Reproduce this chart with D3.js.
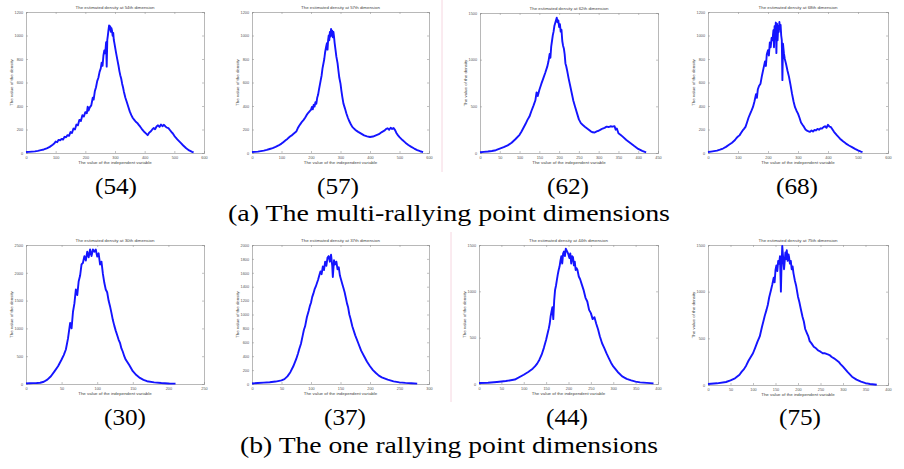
<!DOCTYPE html>
<html><head><meta charset="utf-8">
<script src="https://cdn.jsdelivr.net/npm/d3@7"></script>
<style>body{margin:0;background:#fff}svg{display:block}</style>
</head><body>
<svg id="c" width="904" height="469"></svg>
<script>
// ---- data ----
const dim54 = [[0,8],[10,10],[20,12],[30,14],[40,18],[50,24],[60,30],[70,40],[80,52],[90,70],[95,80],[100,98],[105,92],[110,112],[115,108],[120,120],[125,114],[130,138],[135,134],[140,152],[145,146],[150,178],[155,170],[160,208],[165,200],[170,242],[175,236],[180,282],[185,272],[190,322],[195,310],[200,348],[205,338],[208,395],[211,362],[215,388],[220,405],[225,470],[228,455],[232,525],[236,560],[240,612],[244,640],[248,690],[252,720],[255,768],[258,742],[261,830],[264,872],[267,848],[270,942],[272,735],[274,962],[276,1002],[278,1045],[280,1085],[282,1050],[284,1078],[286,1032],[288,1062],[290,1040],[292,998],[294,1022],[296,962],[298,935],[300,905],[303,860],[306,820],[309,780],[312,740],[315,695],[318,660],[321,632],[324,590],[327,560],[330,522],[335,470],[340,432],[345,392],[350,352],[355,322],[360,298],[365,282],[370,266],[375,256],[380,240],[385,224],[390,206],[395,190],[400,176],[405,165],[410,152],[415,172],[420,182],[425,198],[430,212],[435,202],[440,226],[445,236],[450,222],[455,242],[460,228],[465,240],[470,226],[475,216],[480,212],[485,196],[490,180],[495,166],[500,146],[505,130],[510,116],[520,90],[530,64],[540,40],[550,22],[560,10],[565,5]];
const dim57 = [[0,8],[10,10],[20,12],[30,16],[40,20],[50,26],[60,34],[70,42],[80,52],[90,64],[100,80],[105,90],[110,100],[115,110],[120,120],[125,132],[130,142],[135,150],[140,162],[145,172],[150,182],[155,210],[160,232],[165,250],[170,268],[175,282],[180,300],[185,322],[190,340],[195,355],[200,368],[203,392],[206,372],[209,410],[212,395],[215,432],[218,420],[221,470],[224,495],[227,540],[230,580],[233,620],[236,660],[239,720],[242,760],[245,800],[248,860],[251,900],[254,935],[256,880],[258,960],[260,1000],[262,960],[264,1030],[266,990],[268,1055],[270,1000],[272,1040],[274,985],[276,1030],[278,990],[280,940],[283,880],[286,820],[290,765],[293,700],[296,640],[300,590],[303,530],[306,480],[310,420],[315,380],[320,336],[325,300],[330,270],[335,245],[340,222],[345,210],[350,198],[355,188],[360,180],[370,165],[380,150],[390,142],[400,136],[410,140],[420,150],[430,160],[440,178],[450,192],[455,205],[460,210],[465,198],[470,215],[475,205],[480,212],[485,195],[490,168],[495,150],[500,135],[510,110],[520,88],[530,68],[540,52],[550,38],[560,25],[570,15],[580,8]];
const dim62 = [[0,8],[10,12],[20,16],[30,22],[40,30],[50,46],[60,62],[70,82],[80,110],[90,150],[100,195],[105,230],[110,270],[115,310],[120,355],[125,390],[130,450],[135,505],[140,565],[143,650],[146,610],[150,675],[155,740],[160,800],[165,860],[170,925],[173,980],[176,1060],[178,1020],[180,1140],[182,1200],[184,1260],[186,1300],[188,1360],[190,1390],[192,1420],[194,1450],[196,1400],[198,1420],[200,1350],[202,1380],[204,1300],[206,1320],[208,1200],[210,1150],[212,1120],[214,1060],[216,960],[218,930],[220,890],[224,800],[228,720],[232,640],[236,560],[240,500],[245,430],[250,360],[255,320],[260,300],[265,282],[270,266],[275,250],[280,232],[285,222],[290,220],[295,232],[300,238],[305,250],[310,262],[315,270],[320,282],[325,278],[330,286],[335,282],[340,288],[343,250],[346,262],[350,212],[355,196],[360,178],[370,140],[380,108],[390,75],[400,44],[410,22],[420,7]];
const dim68 = [[0,8],[10,12],[20,16],[30,20],[40,28],[50,38],[60,52],[70,70],[80,88],[90,110],[95,128],[100,140],[105,150],[110,170],[115,190],[120,205],[125,222],[130,260],[135,300],[140,330],[145,360],[150,392],[155,440],[160,500],[163,470],[166,540],[170,570],[175,590],[180,660],[185,720],[190,780],[193,740],[196,840],[200,875],[203,830],[206,940],[209,900],[212,980],[215,960],[218,1045],[220,900],[222,1080],[224,1000],[226,1110],[228,850],[230,1100],[232,960],[234,1080],[236,1030],[238,1115],[240,1060],[242,1090],[244,1000],[246,960],[248,620],[250,930],[253,850],[256,800],[260,760],[265,700],[270,648],[275,580],[280,505],[285,440],[290,390],[295,360],[300,335],[305,300],[310,260],[315,240],[320,222],[325,200],[330,190],[335,185],[340,180],[345,192],[350,182],[355,196],[360,192],[365,205],[370,198],[375,210],[380,208],[385,220],[390,228],[395,215],[400,240],[405,225],[410,220],[415,200],[420,180],[430,150],[440,122],[450,100],[460,80],[470,64],[480,50],[490,35],[500,22],[510,12],[515,8]];
const dim30 = [[0,12],[5,14],[10,16],[15,18],[20,22],[25,40],[30,78],[35,140],[40,228],[45,320],[50,440],[53,520],[56,620],[59,820],[62,1100],[64,1000],[66,1300],[68,1450],[70,1700],[72,1600],[74,1850],[76,1950],[78,2150],[80,2180],[82,2300],[84,2220],[86,2380],[88,2280],[90,2420],[92,2300],[94,2420],[96,2380],[98,2420],[100,2290],[102,2350],[104,2150],[106,2200],[108,1980],[110,1820],[112,1700],[114,1650],[116,1500],[118,1400],[120,1280],[122,1150],[124,1050],[126,960],[128,880],[130,800],[132,740],[134,640],[136,580],[138,500],[140,440],[145,340],[150,230],[155,160],[160,110],[165,75],[170,50],[180,30],[190,18],[200,10],[210,6]];
const dim37 = [[0,8],[10,14],[20,20],[30,26],[40,35],[50,52],[55,70],[60,110],[65,170],[70,255],[75,360],[78,440],[80,500],[83,580],[86,700],[88,780],[90,830],[93,960],[96,1050],[98,1120],[100,1170],[102,1250],[104,1300],[106,1360],[108,1400],[110,1450],[112,1500],[114,1560],[116,1620],[118,1580],[120,1690],[122,1640],[124,1760],[126,1700],[128,1820],[130,1840],[132,1760],[134,1860],[136,1700],[137,1540],[139,1780],[141,1720],[143,1760],[145,1650],[147,1680],[149,1560],[151,1500],[153,1440],[155,1380],[157,1320],[159,1240],[161,1160],[163,1100],[165,1000],[167,940],[170,830],[175,700],[180,590],[185,480],[190,400],[195,320],[200,255],[205,200],[210,158],[215,120],[220,96],[230,62],[240,38],[250,24],[260,16],[270,10],[280,5]];
const dim44 = [[0,10],[20,14],[40,22],[60,32],[80,48],[100,100],[110,130],[120,165],[125,190],[130,220],[135,262],[140,316],[145,390],[150,478],[153,540],[156,600],[158,650],[160,728],[162,780],[164,830],[166,700],[168,900],[170,1015],[172,1060],[174,1120],[176,1180],[178,1230],[180,1267],[182,1330],[184,1380],[186,1300],[188,1410],[190,1430],[192,1380],[194,1460],[196,1440],[198,1420],[200,1395],[202,1360],[204,1410],[206,1300],[208,1380],[210,1370],[212,1280],[214,1320],[216,1230],[218,1250],[220,1230],[223,1160],[226,1130],[230,1070],[234,1010],[238,930],[242,890],[246,800],[250,765],[254,700],[258,720],[262,650],[266,590],[270,515],[275,440],[280,388],[285,330],[290,280],[295,230],[300,190],[310,130],[320,82],[330,56],[340,39],[350,26],[360,18],[375,12],[390,7]];
const dim75 = [[0,10],[20,18],[40,32],[50,50],[60,72],[70,110],[75,143],[80,170],[85,210],[90,260],[95,300],[100,340],[105,400],[110,464],[115,520],[120,625],[123,680],[126,740],[130,805],[133,860],[136,940],[140,1018],[143,1080],[146,1150],[148,1100],[150,1232],[152,1280],[154,1220],[156,1330],[158,1300],[160,1380],[162,1000],[163,1200],[165,1490],[167,1360],[169,1240],[170,1300],[172,1420],[174,1350],[175,1445],[177,1330],[179,1400],[180,1375],[182,1300],[184,1330],[186,1240],[188,1270],[190,1196],[193,1120],[196,1060],[200,946],[203,890],[206,820],[210,732],[213,680],[216,600],[220,554],[223,520],[226,470],[230,446],[235,410],[240,393],[245,370],[250,357],[255,340],[260,340],[265,330],[270,321],[275,300],[280,286],[285,268],[290,250],[295,222],[300,196],[310,140],[320,89],[330,58],[340,36],[350,20],[360,11],[375,2]];

const ticks0to600 = [0,100,200,300,400,500,600];
const ticks0to450 = [0,50,100,150,200,250,300,350,400,450];
const ticks0to250 = [0,50,100,150,200,250];
const ticks0to300 = [0,50,100,150,200,250,300];
const ticks0to400 = [0,50,100,150,200,250,300,350,400];
const yTicks1200 = [0,200,400,600,800,1000,1200];
const yTicks1500 = [0,500,1000,1500];
const yTicks2500 = [0,500,1000,1500,2000,2500];
const yTicks2000 = [0,200,400,600,800,1000,1200,1400,1600,1800,2000];

const dimNames = ["54","57","62","68","30","37","44","75"];
const captionsTop = ["(54)","(57)","(62)","(68)"];
const captionsBottom = ["(30)","(37)","(44)","(75)"];
const groupCaptions = ["(a) The multi-rallying point dimensions","(b) The one rallying point dimensions"];

// ---- layout ----
const panels = [
  {data:dim54, xt:ticks0to600, yt:yTicks1200, box:[26,204,12,153]},
  {data:dim57, xt:ticks0to600, yt:yTicks1200, box:[252,429,12,153]},
  {data:dim62, xt:ticks0to450, yt:yTicks1500, box:[480,658,13,153]},
  {data:dim68, xt:ticks0to600, yt:yTicks1200, box:[708,888,12,153]},
  {data:dim30, xt:ticks0to250, yt:yTicks2500, box:[26,204,245,384]},
  {data:dim37, xt:ticks0to300, yt:yTicks2000, box:[252,429,245,384]},
  {data:dim44, xt:ticks0to400, yt:yTicks1500, box:[479,658,245,384]},
  {data:dim75, xt:ticks0to400, yt:yTicks1500, box:[708,888,245,385]}
];

const svg = d3.select("#c");
// faint scan seam lines
svg.append("line").attr("x1",442).attr("x2",442).attr("y1",0).attr("y2",172).attr("stroke","#f6d6e0").attr("stroke-width",1);
svg.append("line").attr("x1",451).attr("x2",451).attr("y1",232).attr("y2",402).attr("stroke","#f6d6e0").attr("stroke-width",1);

const sans = "Liberation Sans, Arial, sans-serif";
panels.forEach((p,i)=>{
  const [L,R,T,B] = p.box;
  const x = d3.scaleLinear().domain([p.xt[0], p.xt[p.xt.length-1]]).range([L,R]);
  const y = d3.scaleLinear().domain([p.yt[0], p.yt[p.yt.length-1]]).range([B,T]);
  const g = svg.append("g");
  const tl = 2;
  const axCol = "#999";
  const xb = g.append("g").attr("transform",`translate(0,${B})`)
    .call(d3.axisBottom(x).tickValues(p.xt).tickSize(-tl).tickPadding(3).tickFormat(d3.format("d")));
  const xt = g.append("g").attr("transform",`translate(0,${T})`)
    .call(d3.axisTop(x).tickValues(p.xt).tickSize(-tl).tickFormat(""));
  const yl = g.append("g").attr("transform",`translate(${L},0)`)
    .call(d3.axisLeft(y).tickValues(p.yt).tickSize(-tl).tickPadding(3).tickFormat(d3.format("d")));
  const yr = g.append("g").attr("transform",`translate(${R},0)`)
    .call(d3.axisRight(y).tickValues(p.yt).tickSize(-tl).tickFormat(""));
  [xb,xt,yl,yr].forEach(a=>{
    a.selectAll("path").attr("stroke",axCol).attr("stroke-width",0.7);
    a.selectAll("line").attr("stroke",axCol).attr("stroke-width",0.6);
    a.selectAll("text").attr("fill","#555").attr("font-size",3.8).attr("font-family",sans);
  });
  g.append("path").datum(p.data)
    .attr("d", d3.line().x(d=>x(d[0])).y(d=>y(d[1])))
    .attr("fill","none").attr("stroke","#1414ff").attr("stroke-width",1.9).attr("stroke-linejoin","round");
  g.append("text").attr("x",(L+R)/2).attr("y",T-3).attr("text-anchor","middle")
    .attr("font-size",4.4).attr("font-family",sans).attr("fill","#444")
    .text(`The estimated density at ${dimNames[i]}th dimension`);
  g.append("text").attr("x",(L+R)/2).attr("y",B+11).attr("text-anchor","middle")
    .attr("font-size",4.4).attr("font-family",sans).attr("fill","#444")
    .text("The value of the independent variable");
  g.append("text").attr("transform",`translate(${L-13},${(T+B)/2}) rotate(-90)`).attr("text-anchor","middle")
    .attr("font-size",4.4).attr("font-family",sans).attr("fill","#444")
    .text("The value of the density");
});

const serif = "Liberation Serif, Times New Roman, serif";
const topCx = [116,338,568,797], botCx = [125,345,567,800];
function cap(txt, cx, by, w){
  svg.append("text").attr("x",cx - w/2).attr("y",by)
    .attr("font-family",serif).attr("font-size",24).attr("fill","#000")
    .attr("textLength",w).attr("lengthAdjust","spacingAndGlyphs").text(txt);
}
captionsTop.forEach((c,i)=>cap(c, topCx[i], 194, 42));
captionsBottom.forEach((c,i)=>cap(c, botCx[i], 425, 42));
cap(groupCaptions[0], 449, 221, 442);
cap(groupCaptions[1], 449, 453, 418);
</script>
</body></html>
